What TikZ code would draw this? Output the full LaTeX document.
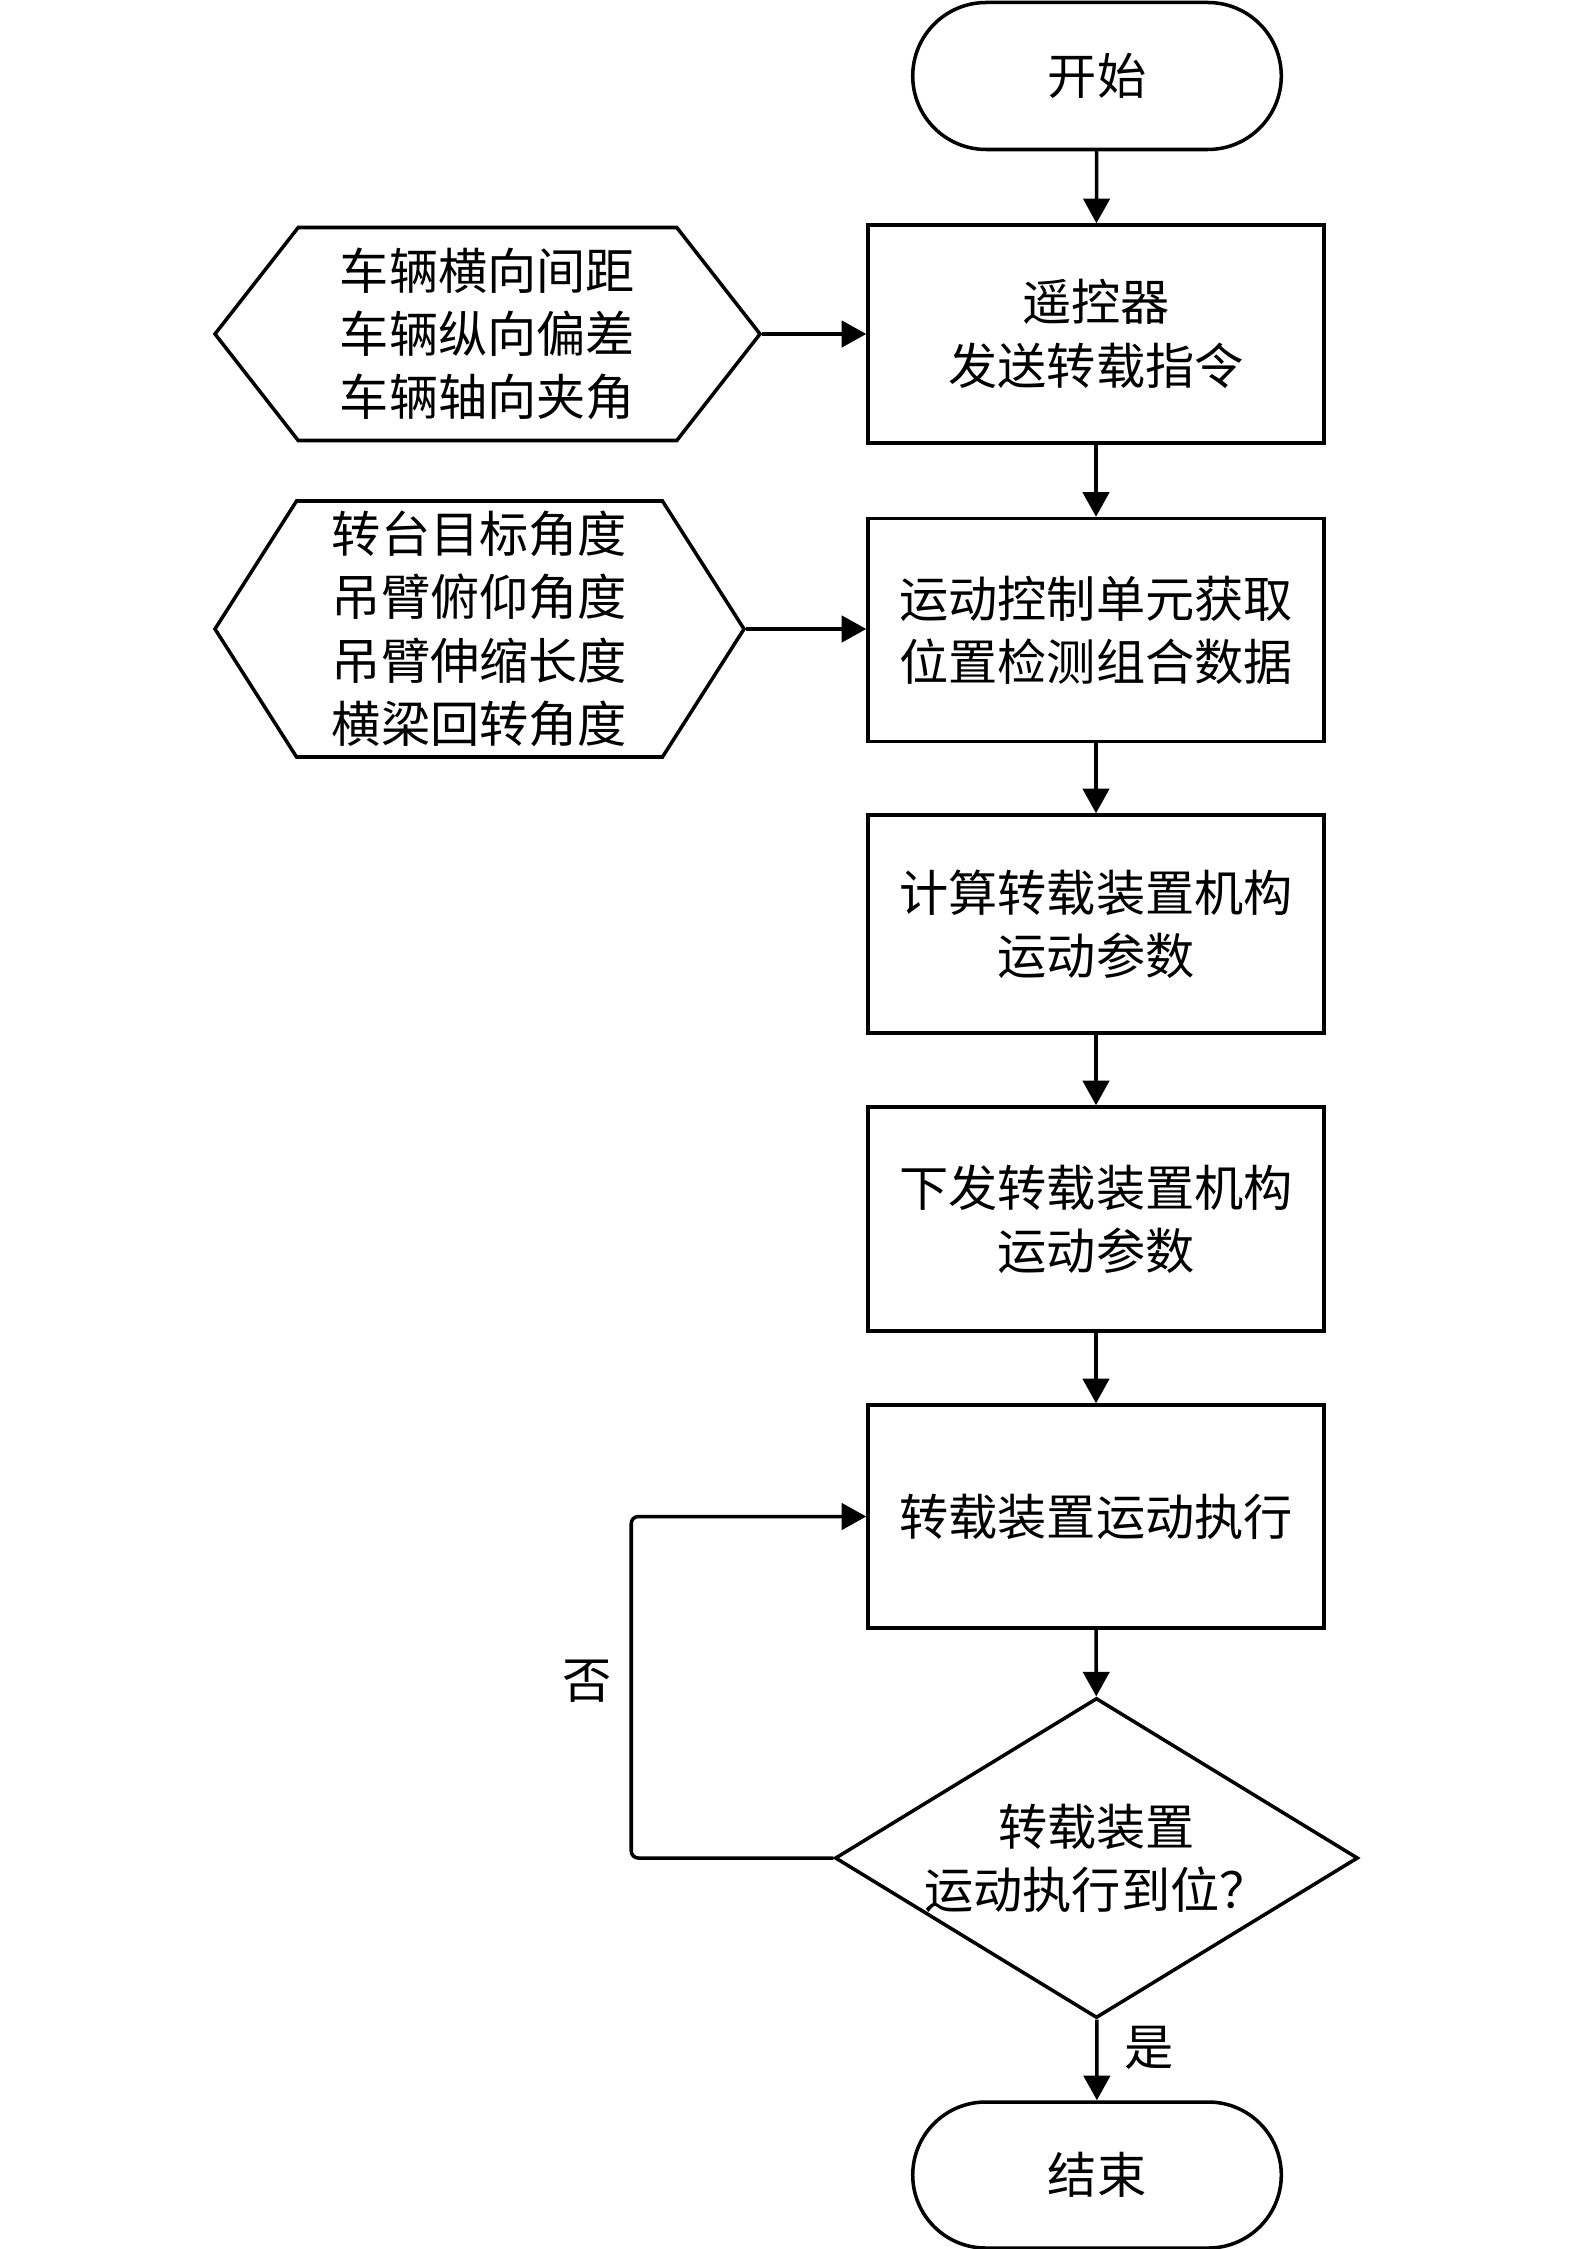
\documentclass[tikz,border=0pt]{standalone}
\usepackage{fontspec}
\setmainfont{Noto Sans CJK SC}
\usepackage{tikz}
\usetikzlibrary{
  arrows.meta,
  positioning,
  shapes.geometric,
  shapes.misc,
  shapes.symbols
}

\begin{document}
\begin{tikzpicture}[
  txt/.style={font=\fontsize{14pt}{18pt}\selectfont, align=center},
  term/.style={txt, draw, line width=1pt, rounded rectangle, minimum width=3.92cm, minimum height=1.47cm},
  proc/.style={txt, draw, line width=1pt, minimum width=4.56cm, minimum height=2.2cm, inner sep=0pt},
  hexa/.style={txt, draw, line width=1pt, signal, signal to=east and west, inner sep=0pt},
  decide/.style={txt, draw, line width=1pt, diamond, aspect=1.64, inner sep=0pt, minimum width=5.23cm, minimum height=3.2cm},
  arr/.style={line width=1pt, -{Triangle[length=7pt, width=7.5pt]}},
]
  \useasboundingbox (0,0) rectangle (15.75,-22.49);

  % Main column
  \node[term] (start) at (10.97,-0.76) {开始};
  \node[proc, minimum height=2.18cm] (send) at (10.96,-3.34) {遥控器\\发送转载指令};
  \node[proc, minimum height=2.23cm] (fetch) at (10.96,-6.30) {运动控制单元获取\\位置检测组合数据};
  \node[proc, minimum height=2.18cm] (calc) at (10.96,-9.24) {计算转载装置机构\\运动参数};
  \node[proc, minimum height=2.24cm] (issue) at (10.96,-12.19) {下发转载装置机构\\运动参数};
  \node[proc, minimum height=2.23cm] (exec) at (10.96,-15.165) {转载装置运动执行};
  \node[decide] (check) at (10.965,-18.58) {转载装置\\运动执行到位？};
  \node[term, minimum height=1.46cm] (stop) at (10.97,-21.75) {结束};

  % Inputs
  \node[hexa, signal pointer angle=104, minimum width=5.45cm, minimum height=2.13cm] (vehicle)
    at (4.875,-3.34) {车辆横向间距\\车辆纵向偏差\\车辆轴向夹角};
  \node[hexa, signal pointer angle=115, minimum width=5.29cm, minimum height=2.56cm] (crane)
    at (4.795,-6.29) {转台目标角度\\吊臂俯仰角度\\吊臂伸缩长度\\横梁回转角度};

  % Flow
  \draw[arr] (start) -- (send);
  \draw[arr] (send) -- (fetch);
  \draw[arr] (fetch) -- (calc);
  \draw[arr] (calc) -- (issue);
  \draw[arr] (issue) -- (exec);
  \draw[arr] (exec) -- (check);
  \draw[arr] (check) -- node[txt, right=4pt, pos=0.35] (yes) {是} (stop);
  \draw[arr] (vehicle.east) -- (send.west);
  \draw[arr] (crane.east) -- (crane.east -| fetch.west);

  % Loop back
  \draw[arr, rounded corners=2pt] (check.west) -- ++(-2.02,0) coordinate (bend) |- (exec.west);
  \node[txt] (no) at (5.87,-16.81) {否};
\end{tikzpicture}
\end{document}
